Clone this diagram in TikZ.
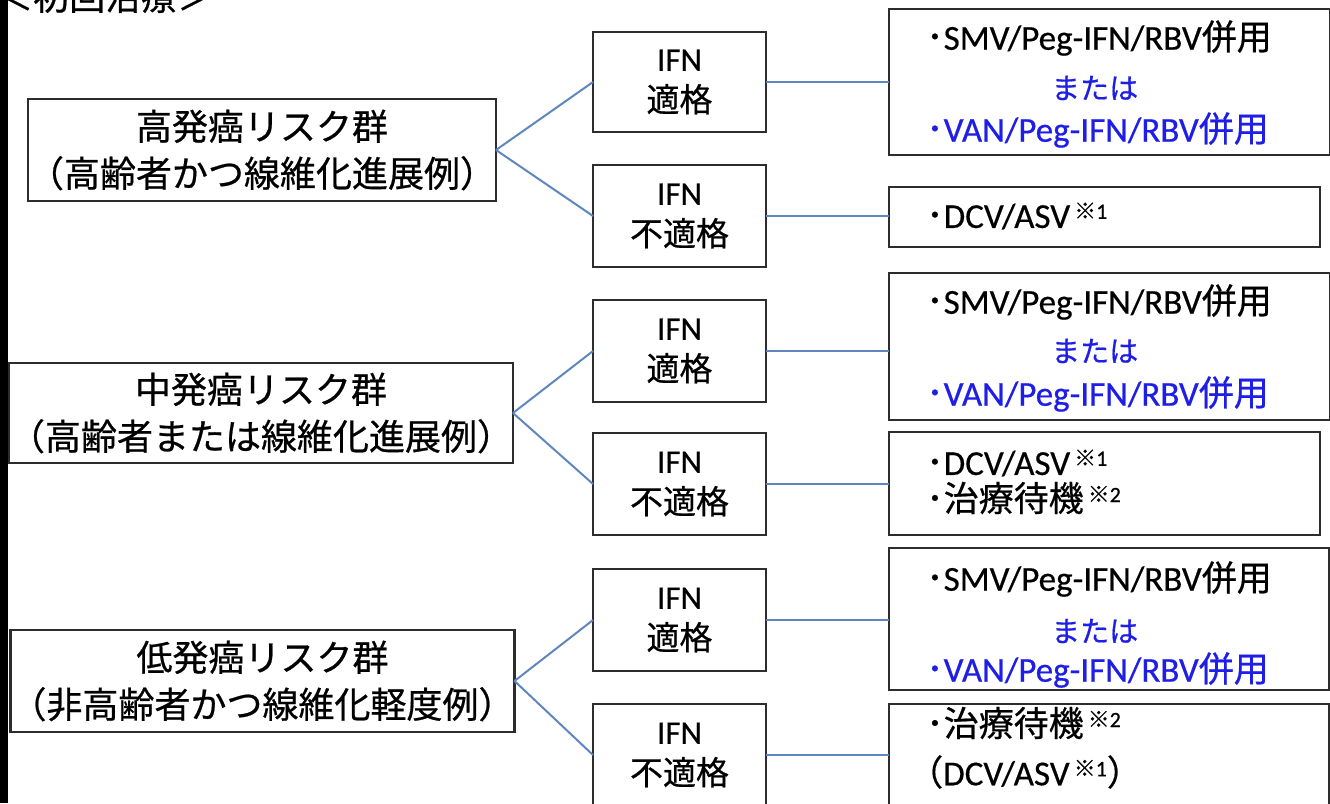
\documentclass[tikz,border=0pt]{standalone}
\usepackage{fontspec}
\setmainfont[FakeBold=0.5]{Carlito}
\newfontfamily\jp[FakeBold=0.6]{Noto Sans CJK JP}
\definecolor{connblue}{RGB}{95,135,190}
\definecolor{boxline}{RGB}{45,45,45}
\definecolor{txtblue}{RGB}{30,30,230}
\newcommand{\noteref}[1]{\hspace{4pt}\raisebox{0.26em}{\fontsize{22}{22}\selectfont{\jp ※}#1}}
\newcommand{\bul}{{\jp ･}}
\begin{document}
\begin{tikzpicture}[x=1pt,y=-1pt,
  box/.style={draw=boxline,line width=2.4pt,fill=white,inner sep=0pt,outer sep=0pt},
  conn/.style={draw=connblue,line width=2pt},
  grp/.style={font=\jp\fontsize{36}{47}\selectfont,align=center},
  ifn/.style={font=\fontsize{33}{41}\selectfont,align=center},
  rt/.style={anchor=west,inner sep=0pt,font=\fontsize{35}{40}\selectfont},
  alt/.style={anchor=west,inner sep=0pt,text=txtblue,font=\jp\fontsize{29}{32}\selectfont},
  bluetext/.style={text=txtblue}]
\useasboundingbox (0,0) rectangle (1330,803);
\clip (0,0) rectangle (1330,803);
\fill[white] (0,0) rectangle (1330,803);

% title (cut off at top)
\node[anchor=base west,inner sep=0pt,font=\jp\fontsize{36}{36}\selectfont] (title) at (-3,10) {＜初回治療＞};

% left group boxes
\node[box,grp,minimum width=464pt,minimum height=102pt] (L1) at (262,150) {高発癌リスク群\\（高齢者かつ線維化進展例）};
\node[box,grp,minimum width=498pt,minimum height=100pt] (L2) at (261,413) {中発癌リスク群\\（高齢者または線維化進展例）};
\node[box,grp,minimum width=501pt,minimum height=102pt] (L3) at (262.5,681) {低発癌リスク群\\（非高齢者かつ線維化軽度例）};

% IFN boxes
\node[box,ifn,minimum width=173pt,minimum height=100pt] (a1) at (679.5,82) {IFN\\{\jp 適格}};
\node[box,ifn,minimum width=173pt,minimum height=102pt] (a2) at (679.5,216) {IFN\\{\jp 不適格}};
\node[box,ifn,minimum width=173pt,minimum height=102pt] (b1) at (679.5,351) {IFN\\{\jp 適格}};
\node[box,ifn,minimum width=173pt,minimum height=102pt] (b2) at (679.5,484) {IFN\\{\jp 不適格}};
\node[box,ifn,minimum width=173pt,minimum height=102pt] (c1) at (679.5,620) {IFN\\{\jp 適格}};
\node[box,ifn,minimum width=173pt,minimum height=102pt] (c2) at (679.5,755) {IFN\\{\jp 不適格}};

% right boxes
\node[box,minimum width=441pt,minimum height=146pt] (A1) at (1109.5,82) {};
\node[box,minimum width=431pt,minimum height=60pt] (A2) at (1104.5,217) {};
\node[box,minimum width=441pt,minimum height=147pt] (B1) at (1109.5,346.5) {};
\node[box,minimum width=431pt,minimum height=103pt] (B2) at (1104.5,483.5) {};
\node[box,minimum width=440pt,minimum height=142pt] (C1) at (1109,619) {};
\node[box,minimum width=440pt,minimum height=106pt] (C2) at (1109,757) {};

% right box texts
\node[rt] (A1a) at (926,38) {\bul SMV/Peg-IFN/RBV{\jp 併用}};
\node[alt] (A1b) at (1051,88) {または};
\node[rt,bluetext] (A1c) at (926,130) {\bul VAN/Peg-IFN/RBV{\jp 併用}};
\node[rt] (A2a) at (926,216) {\bul DCV/ASV\noteref{1}};

\node[rt] (B1a) at (926,302) {\bul SMV/Peg-IFN/RBV{\jp 併用}};
\node[alt] (B1b) at (1051,351) {または};
\node[rt,bluetext] (B1c) at (926,394) {\bul VAN/Peg-IFN/RBV{\jp 併用}};
\node[rt] (B2a) at (926,463) {\bul DCV/ASV\noteref{1}};
\node[rt] (B2b) at (926,498) {\bul{\jp 治療待機}\noteref{2}};

\node[rt] (C1a) at (926,579) {\bul SMV/Peg-IFN/RBV{\jp 併用}};
\node[alt] (C1b) at (1051,631) {または};
\node[rt,bluetext] (C1c) at (926,670) {\bul VAN/Peg-IFN/RBV{\jp 併用}};
\node[rt] (C2a) at (926,723) {\bul{\jp 治療待機}\noteref{2}};
\node[rt] (C2b) at (908,772) {{\jp （}DCV/ASV\noteref{1}{\jp ）}};

% connectors
\draw[conn] (L1.east) -- (a1.west);
\draw[conn] (L1.east) -- (a2.west);
\draw[conn] (L2.east) -- (b1.west);
\draw[conn] (L2.east) -- (b2.west);
\draw[conn] (L3.east) -- (c1.west);
\draw[conn] (L3.east) -- (c2.west);
\draw[conn] (a1.east) -- (a1.east -| A1.west);
\draw[conn] (a2.east) -- (a2.east -| A2.west);
\draw[conn] (b1.east) -- (b1.east -| B1.west);
\draw[conn] (b2.east) -- (b2.east -| B2.west);
\draw[conn] (c1.east) -- (c1.east -| C1.west);
\draw[conn] (c2.east) -- (c2.east -| C2.west);

% black strip on the left edge
\fill[black] (0,0) rectangle (8,803);
\end{tikzpicture}
\end{document}
